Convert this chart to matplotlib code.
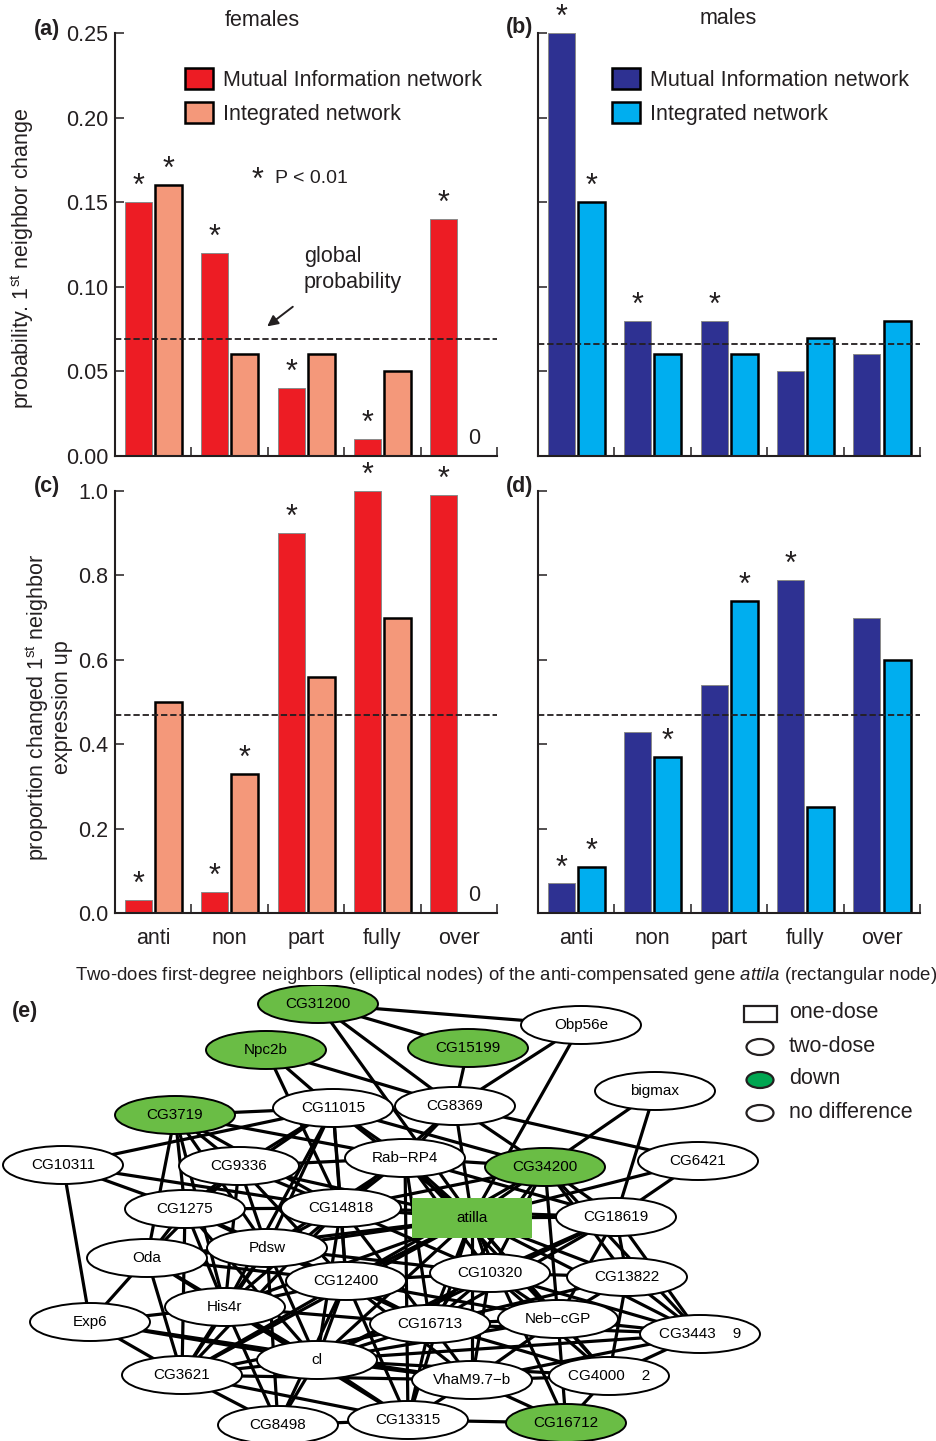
import matplotlib.pyplot as plt
import numpy as np
from matplotlib.patches import Ellipse, Rectangle, Patch

plt.rcParams['font.family'] = ['Liberation Sans', 'DejaVu Sans']
plt.rcParams['mathtext.fontset'] = 'custom'
plt.rcParams['mathtext.rm'] = 'Liberation Sans'
plt.rcParams['mathtext.it'] = 'Liberation Sans:italic'

groups = ['anti', 'non', 'part', 'fully', 'over']

# probability of 1st neighbor change
fem_prob_mi = [0.15, 0.12, 0.04, 0.01, 0.14]
fem_prob_int = [0.16, 0.06, 0.06, 0.05, 0.0]
male_prob_mi = [0.25, 0.08, 0.08, 0.05, 0.06]
male_prob_int = [0.15, 0.06, 0.06, 0.07, 0.08]
# proportion changed neighbors with expression up
fem_up_mi = [0.03, 0.05, 0.90, 1.00, 0.99]
fem_up_int = [0.50, 0.33, 0.56, 0.70, 0.0]
male_up_mi = [0.07, 0.43, 0.54, 0.79, 0.70]
male_up_int = [0.11, 0.37, 0.74, 0.25, 0.60]

# P < 0.01 flags
fem_prob_sig_mi = [1, 1, 1, 1, 1]
fem_prob_sig_int = [1, 0, 0, 0, 0]
male_prob_sig_mi = [1, 1, 1, 0, 0]
male_prob_sig_int = [1, 0, 0, 0, 0]
fem_up_sig_mi = [1, 1, 1, 1, 1]
fem_up_sig_int = [0, 1, 0, 0, 0]
male_up_sig_mi = [1, 0, 0, 1, 0]
male_up_sig_int = [1, 1, 1, 0, 0]

global_prob_f = 0.069
global_prob_m = 0.066
global_up = 0.47

# network (e): node names, shown labels, layout positions, down-regulated flag
net_nodes = ['CG31200', 'Npc2b', 'CG15199', 'Obp56e', 'CG3719', 'CG11015', 'CG8369',
             'bigmax', 'CG10311', 'CG9336', 'Rab-RP4', 'CG34200', 'CG6421', 'CG1275',
             'CG14818', 'atilla', 'CG18619', 'Oda', 'Pdsw', 'CG12400', 'CG10320',
             'CG13822', 'Exp6', 'His4r', 'CG16713', 'Neb-cGP', 'CG3443', 'cl',
             'VhaM9.7-b', 'CG4000', 'CG3621', 'CG8498', 'CG13315', 'CG16712']
net_labels = ['CG31200', 'Npc2b', 'CG15199', 'Obp56e', 'CG3719', 'CG11015', 'CG8369',
              'bigmax', 'CG10311', 'CG9336', 'Rab\u2212RP4', 'CG34200', 'CG6421', 'CG1275',
              'CG14818', 'atilla', 'CG18619', 'Oda', 'Pdsw', 'CG12400', 'CG10320',
              'CG13822', 'Exp6', 'His4r', 'CG16713', 'Neb\u2212cGP', 'CG3443    9', 'cl',
              'VhaM9.7\u2212b', 'CG4000    2', 'CG3621', 'CG8498', 'CG13315', 'CG16712']
net_x = [318, 266, 468, 581, 175, 333, 455, 655, 63, 239, 405, 545, 698, 185,
         341, 472, 616, 147, 267, 346, 490, 627, 90, 225, 430, 558, 700, 317,
         472, 609, 182, 278, 408, 566]
net_y = [1004, 1050, 1048, 1025, 1115, 1108, 1106, 1091, 1165, 1166, 1158, 1167, 1161, 1209,
         1208, 1218, 1217, 1258, 1248, 1281, 1273, 1277, 1322, 1307, 1324, 1319, 1334, 1360,
         1380, 1376, 1375, 1425, 1420, 1423]
net_down = ['CG31200', 'Npc2b', 'CG15199', 'CG3719', 'CG34200', 'CG16712', 'atilla']
one_dose = ['atilla']

net_edges = [
    ('CG31200', 'Obp56e'), ('CG31200', 'CG15199'), ('CG31200', 'CG8369'), ('CG31200', 'atilla'),
    ('Npc2b', 'CG11015'), ('Npc2b', 'CG14818'), ('Npc2b', 'CG8369'),
    ('CG15199', 'CG8369'), ('Obp56e', 'CG8369'), ('Obp56e', 'atilla'),
    ('bigmax', 'CG34200'), ('bigmax', 'CG18619'),
    ('CG8369', 'CG6421'), ('CG8369', 'Rab-RP4'), ('CG8369', 'atilla'), ('CG8369', 'CG34200'),
    ('CG8369', 'CG14818'), ('CG6421', 'atilla'), ('CG6421', 'CG18619'),
    ('CG3719', 'CG11015'), ('CG3719', 'CG1275'), ('CG3719', 'Oda'), ('CG3719', 'CG9336'),
    ('CG3719', 'CG14818'), ('CG3719', 'Pdsw'), ('CG3719', 'Rab-RP4'), ('CG3719', 'His4r'),
    ('CG10311', 'CG11015'), ('CG10311', 'CG1275'), ('CG10311', 'Exp6'), ('CG10311', 'CG14818'),
    ('CG11015', 'CG9336'), ('CG11015', 'CG1275'), ('CG11015', 'Rab-RP4'), ('CG11015', 'CG14818'),
    ('CG11015', 'Pdsw'), ('CG11015', 'atilla'), ('CG11015', 'CG12400'), ('CG11015', 'CG34200'),
    ('CG11015', 'His4r'),
    ('Rab-RP4', 'CG9336'), ('Rab-RP4', 'atilla'), ('Rab-RP4', 'CG14818'), ('Rab-RP4', 'CG13315'),
    ('Rab-RP4', 'CG10320'), ('Rab-RP4', 'CG16713'), ('Rab-RP4', 'CG18619'), ('Rab-RP4', 'Neb-cGP'),
    ('Rab-RP4', 'Pdsw'), ('Rab-RP4', 'CG34200'),
    ('CG9336', 'CG1275'), ('CG9336', 'CG14818'), ('CG9336', 'Pdsw'), ('CG9336', 'His4r'),
    ('CG9336', 'CG12400'), ('CG9336', 'atilla'), ('CG9336', 'Oda'),
    ('CG1275', 'Oda'), ('CG1275', 'Pdsw'), ('CG1275', 'His4r'), ('CG1275', 'CG14818'),
    ('CG1275', 'CG12400'), ('CG1275', 'cl'), ('CG1275', 'CG3621'),
    ('CG14818', 'atilla'), ('CG14818', 'Pdsw'), ('CG14818', 'CG12400'), ('CG14818', 'CG10320'),
    ('CG14818', 'cl'), ('CG14818', 'His4r'), ('CG14818', 'CG16713'), ('CG14818', 'CG3621'),
    ('CG14818', 'CG18619'),
    ('atilla', 'CG34200'), ('atilla', 'CG18619'), ('atilla', 'CG10320'), ('atilla', 'CG13822'),
    ('atilla', 'CG12400'), ('atilla', 'CG16713'), ('atilla', 'Neb-cGP'), ('atilla', 'CG3443'),
    ('atilla', 'cl'), ('atilla', 'Pdsw'), ('atilla', 'VhaM9.7-b'), ('atilla', 'CG4000'),
    ('atilla', 'His4r'), ('atilla', 'CG13315'), ('atilla', 'CG16712'), ('atilla', 'CG3621'),
    ('atilla', 'Oda'),
    ('CG34200', 'CG18619'), ('CG34200', 'CG13822'), ('CG34200', 'CG10320'), ('CG34200', 'Neb-cGP'),
    ('CG34200', 'CG3443'), ('CG34200', 'CG16713'), ('CG34200', 'CG12400'), ('CG34200', 'CG14818'),
    ('CG18619', 'CG13822'), ('CG18619', 'CG3443'), ('CG18619', 'CG10320'), ('CG18619', 'Neb-cGP'),
    ('CG18619', 'CG16713'), ('CG18619', 'cl'),
    ('Oda', 'Exp6'), ('Oda', 'Pdsw'), ('Oda', 'His4r'), ('Oda', 'CG3621'), ('Oda', 'CG12400'),
    ('Oda', 'cl'),
    ('Pdsw', 'CG12400'), ('Pdsw', 'His4r'), ('Pdsw', 'cl'), ('Pdsw', 'CG3621'), ('Pdsw', 'CG10320'),
    ('Pdsw', 'CG16713'), ('Pdsw', 'CG8498'),
    ('CG12400', 'His4r'), ('CG12400', 'CG10320'), ('CG12400', 'CG16713'), ('CG12400', 'cl'),
    ('CG12400', 'CG3621'), ('CG12400', 'VhaM9.7-b'), ('CG12400', 'CG8498'), ('CG12400', 'Neb-cGP'),
    ('CG12400', 'CG13315'),
    ('CG10320', 'CG16713'), ('CG10320', 'Neb-cGP'), ('CG10320', 'CG13822'), ('CG10320', 'cl'),
    ('CG10320', 'VhaM9.7-b'), ('CG10320', 'CG4000'), ('CG10320', 'CG3443'),
    ('CG13822', 'CG3443'), ('CG13822', 'CG4000'), ('CG13822', 'Neb-cGP'), ('CG13822', 'CG16713'),
    ('Exp6', 'His4r'), ('Exp6', 'CG3621'), ('Exp6', 'VhaM9.7-b'), ('Exp6', 'cl'),
    ('His4r', 'CG3621'), ('His4r', 'cl'), ('His4r', 'CG8498'), ('His4r', 'CG16713'),
    ('His4r', 'CG13315'),
    ('CG16713', 'Neb-cGP'), ('CG16713', 'cl'), ('CG16713', 'VhaM9.7-b'), ('CG16713', 'CG3443'),
    ('CG16713', 'CG4000'), ('CG16713', 'CG13315'), ('CG16713', 'CG3621'),
    ('Neb-cGP', 'CG3443'), ('Neb-cGP', 'CG4000'), ('Neb-cGP', 'CG16712'), ('Neb-cGP', 'cl'),
    ('Neb-cGP', 'VhaM9.7-b'),
    ('cl', 'CG3621'), ('cl', 'CG8498'), ('cl', 'VhaM9.7-b'), ('cl', 'CG13315'), ('cl', 'CG3443'),
    ('cl', 'CG4000'),
    ('CG3621', 'CG8498'), ('CG3621', 'CG13315'), ('CG3621', 'VhaM9.7-b'),
    ('VhaM9.7-b', 'CG4000'), ('VhaM9.7-b', 'CG13315'), ('VhaM9.7-b', 'CG16712'),
    ('VhaM9.7-b', 'CG3443'),
    ('CG4000', 'CG16712'), ('CG4000', 'CG3443'),
    ('CG13315', 'CG16712'), ('CG13315', 'CG8498'),
]

RED = '#ed1c24'
SALMON = '#f4987a'
NAVY = '#2e3192'
CYAN = '#00aeef'
DARK = '#231f20'
NODE_GREEN = '#6abd45'
FS = 15.5

W, H = 937, 1441
fig = plt.figure(figsize=(W / 100, H / 100), dpi=100)


def fx(x):
    return x / W


def fy(y):
    return 1 - y / H


def bar_panel(rect, mi, intg, sig_mi, sig_int, c_mi, c_int, gline, ymax, yticks, fmt,
              ylabels=True, xlabels=True):
    ax = fig.add_axes(rect)
    x = np.arange(len(groups))
    mi_pos = x + 0.305
    int_pos = x + 0.70
    ax.bar(mi_pos, mi, width=0.355, color=c_mi, edgecolor='#8a8a8a', linewidth=0.7, zorder=2)
    lw_int = [1.8 if v > 0 else 0 for v in intg]
    ax.bar(int_pos, intg, width=0.355, color=c_int, edgecolor='black', linewidth=lw_int, zorder=2)
    ax.axhline(gline, color=DARK, lw=1.3, ls=(0, (3.5, 1.6)), zorder=3)
    for xs, vals, sig in ((mi_pos, mi, sig_mi), (int_pos, intg, sig_int)):
        for xi, v, s in zip(xs, vals, sig):
            if s:
                ax.annotate('*', xy=(xi, v), xytext=(0, 0), textcoords='offset points',
                            ha='center', va='bottom', fontsize=22, color=DARK,
                            annotation_clip=False)
            if v == 0:
                ax.annotate('0', xy=(xi, 0), xytext=(0, 5), textcoords='offset points',
                            ha='center', va='bottom', fontsize=FS, color=DARK)
    ax.set_xlim(0, 5)
    ax.set_ylim(0, ymax)
    for s in ('top', 'right'):
        ax.spines[s].set_visible(False)
    for s in ('left', 'bottom'):
        ax.spines[s].set_linewidth(1.5)
        ax.spines[s].set_color(DARK)
    ax.set_yticks(yticks)
    if ylabels:
        ax.set_yticklabels([fmt % t for t in yticks])
    else:
        ax.set_yticklabels([])
    ax.set_xticks([1, 2, 3, 4, 5])
    ax.set_xticklabels([])
    ax.set_xticks(x + 0.5, minor=True)
    ax.set_xticklabels(groups if xlabels else [], minor=True)
    ax.tick_params(axis='both', which='major', direction='in', length=6.5, width=1.1,
                   color=DARK, labelsize=FS, labelcolor=DARK, pad=5)
    ax.tick_params(axis='x', which='minor', length=0, labelsize=FS, labelcolor=DARK, pad=10.5)
    ax.patch.set_alpha(0)
    return ax


top_h = 423 / H
bot_h = 422 / H
ax_w = 382 / W

ax_a = bar_panel([fx(115), fy(456), ax_w, top_h], fem_prob_mi, fem_prob_int, fem_prob_sig_mi,
                 fem_prob_sig_int, RED, SALMON, global_prob_f, 0.25,
                 [0, 0.05, 0.10, 0.15, 0.20, 0.25], '%.2f', xlabels=False)
ax_b = bar_panel([fx(538), fy(456), ax_w, top_h], male_prob_mi, male_prob_int, male_prob_sig_mi,
                 male_prob_sig_int, NAVY, CYAN, global_prob_m, 0.25,
                 [0, 0.05, 0.10, 0.15, 0.20, 0.25], '%.2f', ylabels=False, xlabels=False)
ax_c = bar_panel([fx(115), fy(913), ax_w, bot_h], fem_up_mi, fem_up_int, fem_up_sig_mi,
                 fem_up_sig_int, RED, SALMON, global_up, 1.0,
                 [0, 0.2, 0.4, 0.6, 0.8, 1.0], '%.1f')
ax_d = bar_panel([fx(538), fy(913), ax_w, bot_h], male_up_mi, male_up_int, male_up_sig_mi,
                 male_up_sig_int, NAVY, CYAN, global_up, 1.0,
                 [0, 0.2, 0.4, 0.6, 0.8, 1.0], '%.1f', ylabels=False)

# legends
for ax, c1, c2, anchor in ((ax_a, RED, SALMON, (0.183, 0.917)), (ax_b, NAVY, CYAN, (0.194, 0.917))):
    handles = [Patch(facecolor=c1, edgecolor='black', linewidth=1.8),
               Patch(facecolor=c2, edgecolor='black', linewidth=1.8)]
    ax.legend(handles, ['Mutual Information network', 'Integrated network'], loc='upper left',
              bbox_to_anchor=anchor, frameon=False, fontsize=FS, handlelength=1.3,
              handleheight=1.15, handletextpad=0.45, labelspacing=0.5, borderpad=0,
              borderaxespad=0, labelcolor=DARK)

ax_a.text(1.87, 0.1625, '*', fontsize=22, ha='center', va='center', color=DARK)
ax_a.text(2.09, 0.164, 'P < 0.01', fontsize=14, ha='left', va='center', color=DARK)
ax_a.text(2.47, 0.110, 'global\nprobability', fontsize=FS, ha='left', va='center',
          color=DARK, linespacing=1.3)
ax_a.annotate('', xy=(1.963, 0.0756), xytext=(2.356, 0.0892),
              arrowprops=dict(arrowstyle='-|>', color=DARK, lw=1.4, mutation_scale=16))

fig.text(fx(262), fy(20), 'females', fontsize=FS, ha='center', va='center', color=DARK)
fig.text(fx(728), fy(19), 'males', fontsize=FS, ha='center', va='center', color=DARK)
for lab, px, py in (('(a)', 47, 29), ('(b)', 520, 28), ('(c)', 47, 487), ('(d)', 520, 487),
                    ('(e)', 25, 1012)):
    fig.text(fx(px), fy(py), lab, fontsize=FS, fontweight='bold', ha='center', va='center',
             color=DARK)

fig.text(fx(22), fy(258), 'probability. 1$^{\\mathrm{st}}$ neighbor change', rotation=90,
         fontsize=FS, ha='center', va='center', color=DARK)
fig.text(fx(48), fy(707), 'proportion changed 1$^{\\mathrm{st}}$ neighbor\nexpression up',
         rotation=90, fontsize=FS, ha='center', va='center', color=DARK,
         multialignment='center', linespacing=1.1)
fig.text(fx(506), fy(975), 'Two-does first-degree neighbors (elliptical nodes) of the '
         'anti-compensated gene $\\it{attila}$ (rectangular node)', fontsize=13.4,
         ha='center', va='center', color=DARK)

# network panel
ax_e = fig.add_axes([0, 0, 1, (H - 985) / H])
ax_e.set_xlim(0, W)
ax_e.set_ylim(H, 985)
ax_e.axis('off')
pos = {n: (x, y) for n, x, y in zip(net_nodes, net_x, net_y)}
for a, b in net_edges:
    ax_e.plot([pos[a][0], pos[b][0]], [pos[a][1], pos[b][1]], color='black', lw=2.3,
              zorder=1, solid_capstyle='round')
for n, lab, x, y in zip(net_nodes, net_labels, net_x, net_y):
    fc = NODE_GREEN if n in net_down else 'white'
    if n in one_dose:
        ax_e.add_patch(Rectangle((x - 60, y - 20), 120, 40, facecolor=fc, edgecolor='none',
                                 zorder=2))
    else:
        ax_e.add_patch(Ellipse((x, y), 120, 38, facecolor=fc, edgecolor='black', lw=1.4,
                               zorder=2))
    ax_e.text(x, y, lab, fontsize=11, ha='center', va='center', color='black', zorder=3)

# node legend
leg_items = ['one-dose', 'two-dose', 'down', 'no difference']
leg_y = [1013, 1046, 1079, 1112]
for item, y in zip(leg_items, leg_y):
    if item == 'one-dose':
        ax_e.add_patch(Rectangle((744, y - 7), 33, 16, facecolor='white', edgecolor=DARK,
                                 lw=1.6, zorder=2))
    else:
        fc = '#00a651' if item == 'down' else 'white'
        ax_e.add_patch(Ellipse((760, y + 1), 27, 16, facecolor=fc, edgecolor=DARK, lw=1.6,
                               zorder=2))
    ax_e.text(789, y, item, fontsize=FS, ha='left', va='center', color=DARK)

fig.savefig('out.png', dpi=100)
